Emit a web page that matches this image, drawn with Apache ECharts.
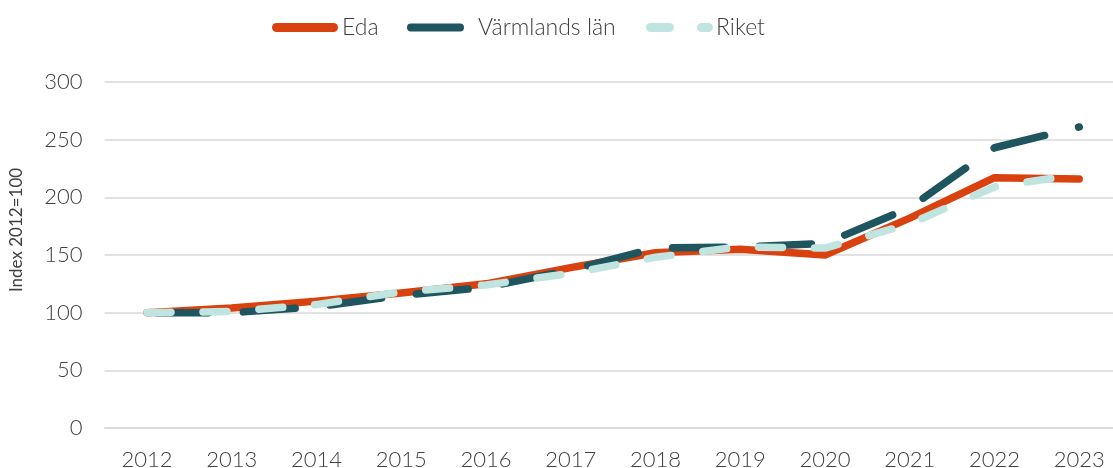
<!DOCTYPE html>
<html>
<head>
<meta charset="utf-8">
<script src="https://cdn.jsdelivr.net/npm/echarts@6/dist/echarts.min.js"></script>
<style>
  html, body { margin: 0; padding: 0; background: #fff; }
  #chart { width: 1113px; height: 468px; }
</style>
</head>
<body>
<div id="chart"></div>
<script>
// index values, 2012 = 100
const years = ['2012', '2013', '2014', '2015', '2016', '2017', '2018', '2019', '2020', '2021', '2022', '2023']
const eda = [100, 104, 110, 117, 125, 139, 152, 155, 150, 182, 217, 216]
const varmland = [100, 100, 105, 115, 122, 137, 156, 157, 160, 191, 243, 261]
const riket = [100, 101, 107, 118, 124, 134, 148, 157, 156, 177, 209, 220]
const yTicks = [0, 50, 100, 150, 200, 250, 300]

const textColor = '#404040'
const fontFamily = 'Lato, "Noto Sans", sans-serif'
const colEda = '#d9410f'
const colVarm = '#1f555e'
const colRiket = '#c0e4df'

// pill shaped legend icons (solid / dashed)
const pill = 'path://M4.5,0 H61.5 A4.5,4.5 0 0 1 61.5,9 H4.5 A4.5,4.5 0 0 1 4.5,0 Z'
const pillDash = 'path://M4.5,0 H23.5 A4.5,4.5 0 0 1 23.5,9 H4.5 A4.5,4.5 0 0 1 4.5,0 Z M55.5,0 H62.5 A4.5,4.5 0 0 1 62.5,9 H55.5 A4.5,4.5 0 0 1 55.5,0 Z'

function legendFor(name, left, width, icon, gap) {
  return {
    top: 16,
    left: left,
    padding: 0,
    itemWidth: width,
    itemHeight: 9,
    icon: icon,
    itemStyle: { borderWidth: 0 },
    textStyle: { color: textColor, fontSize: 23, fontWeight: 300, fontFamily: fontFamily, padding: [0, 0, 0, gap] },
    data: [name]
  }
}

const chart = echarts.init(document.getElementById('chart'), null, { renderer: 'canvas' })

var option = {
  animation: false,
  textStyle: { fontFamily: fontFamily, fontWeight: 300 },
  legend: [
    legendFor('Eda', 272, 66, pill, -1),
    legendFor('Värmlands län', 407, 57, pill, 9),
    legendFor('Riket', 646, 67, pillDash, -2)
  ],
  grid: {
    left: 104.6,
    right: -8.6,
    top: 82,
    bottom: 40,
    containLabel: false,
    outerBoundsMode: 'none'
  },
  xAxis: {
    type: 'category',
    data: years,
    boundaryGap: true,
    axisLine: { lineStyle: { color: '#d9d9d9', width: 1.5 } },
    axisTick: { show: false },
    axisLabel: { color: textColor, fontSize: 22, fontWeight: 300, margin: 21 }
  },
  yAxis: {
    type: 'value',
    min: yTicks[0],
    max: yTicks[yTicks.length - 1],
    interval: 50,
    name: 'Index 2012=100',
    nameLocation: 'middle',
    nameGap: 80,
    nameRotate: 90,
    nameTextStyle: { color: textColor, fontSize: 17, fontWeight: 400, padding: [0, 0, 0, 50] },
    axisLine: { show: false },
    axisTick: { show: false },
    axisLabel: { color: textColor, fontSize: 22, fontWeight: 300, margin: 22 },
    splitLine: { lineStyle: { color: '#d9d9d9', width: 1.5 } }
  },
  series: [{
    name: 'Eda',
    type: 'line',
    data: eda,
    symbol: 'none',
    color: colEda,
    lineStyle: { color: colEda, width: 7.5, cap: 'round', join: 'round' }
  }, {
    name: 'Värmlands län',
    type: 'line',
    data: varmland,
    symbol: 'none',
    color: colVarm,
    lineStyle: { color: colVarm, width: 7.5, type: [52, 35], dashOffset: 77.6, cap: 'round', join: 'round' }
  }, {
    name: 'Riket',
    type: 'line',
    data: riket,
    symbol: 'none',
    color: colRiket,
    lineStyle: { color: colRiket, width: 7.5, type: [24, 32], cap: 'round', join: 'round' }
  }]
}

chart.setOption(option)
</script>
</body>
</html>
